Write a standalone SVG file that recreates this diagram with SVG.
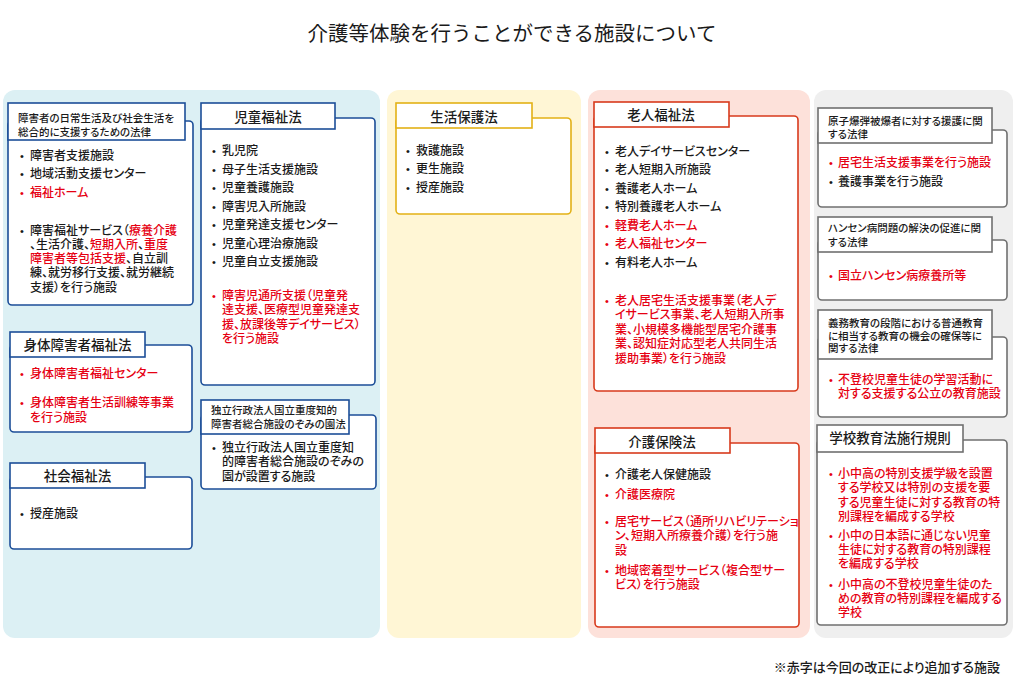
<svg xmlns="http://www.w3.org/2000/svg" width="1024" height="700" viewBox="0 0 1024 700">
<style>
text{font-family:"Noto Sans CJK JP","Noto Sans",sans-serif;font-feature-settings:"palt" 1;fill:#1a1a1a;font-size:12px;font-weight:500}
.r{fill:#e60012}
.h{font-size:13.5px;text-anchor:middle}
.s{font-size:10.5px}
.b{font-family:"Liberation Sans",sans-serif;font-size:11px}
.tab,.body{fill:#fff;stroke-width:1.6}
.blue{stroke:#1c4e98}
.yel{stroke:#e3b116}
.red{stroke:#d83a1c}
.gry{stroke:#707070}
</style>
<rect width="1024" height="700" fill="#fff"/>
<text x="512" y="41" text-anchor="middle" style="font-size:20.5px;font-feature-settings:normal;font-weight:400">介護等体験を行うことができる施設について</text>
<g id="columns">
<rect x="3" y="90" width="377" height="548" rx="12" fill="#dcf0f4"/>
<rect x="387" y="90" width="194" height="548" rx="12" fill="#fff6d5"/>
<rect x="588" y="90" width="222" height="548" rx="12" fill="#fde1da"/>
<rect x="814" y="90" width="199" height="548" rx="12" fill="#efefef"/>
</g>
<g id="connectors"></g>
<g id="law-sogoshien">
<rect class="body blue" x="8" y="121" width="185" height="184" rx="4"/>
<rect class="tab blue" x="8" y="103" width="177" height="37"/>
<text class="s"><tspan x="18" y="122">障害者の日常生活及び社会生活を</tspan><tspan x="18" y="135.5">総合的に支援するための法律</tspan></text>
<text class="b" x="20" y="159.5">•</text><text x="30" y="159.5">障害者支援施設</text>
<text class="b" x="20" y="177.5">•</text><text x="30" y="177.5">地域活動支援センター</text>
<text class="b r" x="20" y="196.5">•</text><text class="r" x="30" y="196.5">福祉ホーム</text>
<text class="b" x="20" y="234.5">•</text>
<text><tspan x="30" y="234.5">障害福祉サービス（</tspan><tspan class="r">療養介護</tspan><tspan x="30" y="248.5">、生活介護、</tspan><tspan class="r">短期入所</tspan><tspan>、</tspan><tspan class="r">重度</tspan><tspan x="30" y="262.5" class="r">障害者等包括支援</tspan><tspan>、自立訓</tspan><tspan x="30" y="277">練、就労移行支援、就労継続</tspan><tspan x="30" y="291.5">支援）を行う施設</tspan></text>
</g>
<g id="law-jido">
<rect class="body blue" x="201" y="118" width="174" height="267" rx="4"/>
<rect class="tab blue" x="201" y="103" width="134" height="26"/>
<text class="h" x="268" y="122">児童福祉法</text>
<text class="b" x="212" y="154.5">•</text><text x="222" y="154.5">乳児院</text>
<text class="b" x="212" y="173.5">•</text><text x="222" y="173.5">母子生活支援施設</text>
<text class="b" x="212" y="192">•</text><text x="222" y="192">児童養護施設</text>
<text class="b" x="212" y="210.5">•</text><text x="222" y="210.5">障害児入所施設</text>
<text class="b" x="212" y="229">•</text><text x="222" y="229">児童発達支援センター</text>
<text class="b" x="212" y="247.5">•</text><text x="222" y="247.5">児童心理治療施設</text>
<text class="b" x="212" y="266">•</text><text x="222" y="266">児童自立支援施設</text>
<text class="b r" x="212" y="299.5">•</text>
<text class="r"><tspan x="222" y="299.5">障害児通所支援（児童発</tspan><tspan x="222" y="314">達支援、医療型児童発達支</tspan><tspan x="222" y="328.5">援、放課後等デイサービス）</tspan><tspan x="222" y="343">を行う施設</tspan></text>
</g>
<g id="law-shintai">
<rect class="body blue" x="10" y="345" width="182" height="87" rx="4"/>
<rect class="tab blue" x="10" y="332" width="135" height="25"/>
<text class="h" x="77.5" y="350">身体障害者福祉法</text>
<text class="b r" x="20" y="377.5">•</text><text class="r" x="30" y="377.5">身体障害者福祉センター</text>
<text class="b r" x="20" y="406.5">•</text>
<text class="r"><tspan x="30" y="406.5">身体障害者生活訓練等事業</tspan><tspan x="30" y="422">を行う施設</tspan></text>
</g>
<g id="law-shakai">
<rect class="body blue" x="10" y="477" width="182" height="72" rx="4"/>
<rect class="tab blue" x="10" y="463" width="135" height="25"/>
<text class="h" x="77.5" y="481">社会福祉法</text>
<text class="b" x="20" y="517.5">•</text><text x="30" y="517.5">授産施設</text>
</g>
<g id="law-nozomi">
<rect class="body blue" x="201" y="415" width="175" height="74" rx="4"/>
<rect class="tab blue" x="201" y="400" width="148" height="34"/>
<text class="s"><tspan x="211" y="414">独立行政法人国立重度知的</tspan><tspan x="211" y="428">障害者総合施設のぞみの園法</tspan></text>
<text class="b" x="212" y="451.5">•</text>
<text><tspan x="222" y="451.5">独立行政法人国立重度知</tspan><tspan x="222" y="466">的障害者総合施設のぞみの</tspan><tspan x="222" y="480.5">園が設置する施設</tspan></text>
</g>
<g id="law-seikatsuhogo">
<rect class="body yel" x="396" y="118" width="175" height="96" rx="4"/>
<rect class="tab yel" x="396" y="103" width="136" height="25"/>
<text class="h" x="464" y="122">生活保護法</text>
<text class="b" x="406" y="154.5">•</text><text x="416" y="154.5">救護施設</text>
<text class="b" x="406" y="172.5">•</text><text x="416" y="172.5">更生施設</text>
<text class="b" x="406" y="191.5">•</text><text x="416" y="191.5">授産施設</text>
</g>
<g id="law-rojin">
<rect class="body red" x="594" y="116" width="204" height="275" rx="4"/>
<rect class="tab red" x="594" y="102" width="135" height="25"/>
<text class="h" x="661" y="120">老人福祉法</text>
<text class="b" x="605" y="155.5">•</text><text x="615" y="155.5">老人デイサービスセンター</text>
<text class="b" x="605" y="173.5">•</text><text x="615" y="173.5">老人短期入所施設</text>
<text class="b" x="605" y="192.5">•</text><text x="615" y="192.5">養護老人ホーム</text>
<text class="b" x="605" y="210.5">•</text><text x="615" y="210.5">特別養護老人ホーム</text>
<text class="b r" x="605" y="229.5">•</text><text class="r" x="615" y="229.5">軽費老人ホーム</text>
<text class="b r" x="605" y="247.5">•</text><text class="r" x="615" y="247.5">老人福祉センター</text>
<text class="b" x="605" y="266.5">•</text><text x="615" y="266.5">有料老人ホーム</text>
<text class="b r" x="605" y="304.5">•</text>
<text class="r"><tspan x="615" y="304.5">老人居宅生活支援事業（老人デ</tspan><tspan x="615" y="318.5">イサービス事業、老人短期入所事</tspan><tspan x="615" y="333.5">業、小規模多機能型居宅介護事</tspan><tspan x="615" y="348">業、認知症対応型老人共同生活</tspan><tspan x="615" y="362.5">援助事業）を行う施設</tspan></text>
</g>
<g id="law-kaigohoken">
<rect class="body red" x="595" y="443" width="204" height="184" rx="4"/>
<rect class="tab red" x="595" y="428" width="135" height="25"/>
<text class="h" x="662" y="447">介護保険法</text>
<text class="b" x="605" y="478.5">•</text><text x="615" y="478.5">介護老人保健施設</text>
<text class="b r" x="605" y="498.5">•</text><text class="r" x="615" y="498.5">介護医療院</text>
<text class="b r" x="605" y="525.5">•</text>
<text class="r"><tspan x="615" y="525.5">居宅サービス（通所リハビリテーショ</tspan><tspan x="615" y="539.5">ン、短期入所療養介護）を行う施</tspan><tspan x="615" y="554.5">設</tspan></text>
<text class="b r" x="605" y="574.5">•</text>
<text class="r"><tspan x="615" y="574.5">地域密着型サービス（複合型サー</tspan><tspan x="615" y="588.5">ビス）を行う施設</tspan></text>
</g>
<g id="law-genbaku">
<rect class="body gry" x="818" y="130" width="189" height="77" rx="4"/>
<rect class="tab gry" x="818" y="108" width="174" height="35"/>
<text class="s"><tspan x="828" y="125">原子爆弾被爆者に対する援護に関</tspan><tspan x="828" y="137.5">する法律</tspan></text>
<text class="b r" x="829" y="166.5">•</text><text class="r" x="838" y="166.5">居宅生活支援事業を行う施設</text>
<text class="b" x="829" y="185.5">•</text><text x="838" y="185.5">養護事業を行う施設</text>
</g>
<g id="law-hansen">
<rect class="body gry" x="818" y="240" width="189" height="60" rx="4"/>
<rect class="tab gry" x="818" y="217" width="174" height="35"/>
<text class="s"><tspan x="828" y="232">ハンセン病問題の解決の促進に関</tspan><tspan x="828" y="246">する法律</tspan></text>
<text class="b r" x="829" y="279.5">•</text><text class="r" x="838" y="279.5">国立ハンセン病療養所等</text>
</g>
<g id="law-kyoikukikai">
<rect class="body gry" x="818" y="337" width="189" height="80" rx="4"/>
<rect class="tab gry" x="818" y="310" width="174" height="49"/>
<text class="s"><tspan x="828" y="327">義務教育の段階における普通教育</tspan><tspan x="828" y="339.5">に相当する教育の機会の確保等に</tspan><tspan x="828" y="352">関する法律</tspan></text>
<text class="b r" x="829" y="383.5">•</text>
<text class="r"><tspan x="838" y="383.5">不登校児童生徒の学習活動に</tspan><tspan x="838" y="397.5">対する支援する公立の教育施設</tspan></text>
</g>
<g id="law-gakko">
<rect class="body gry" x="817" y="440" width="190" height="185" rx="4"/>
<rect class="tab gry" x="817" y="425" width="146" height="27"/>
<text class="h" x="890" y="443">学校教育法施行規則</text>
<text class="b r" x="829" y="477.5">•</text>
<text class="r"><tspan x="838" y="477.5">小中高の特別支援学級を設置</tspan><tspan x="838" y="492">する学校又は特別の支援を要</tspan><tspan x="838" y="506.5">する児童生徒に対する教育の特</tspan><tspan x="838" y="520.5">別課程を編成する学校</tspan></text>
<text class="b r" x="829" y="539.5">•</text>
<text class="r"><tspan x="838" y="539.5">小中の日本語に通じない児童</tspan><tspan x="838" y="553.5">生徒に対する教育の特別課程</tspan><tspan x="838" y="568">を編成する学校</tspan></text>
<text class="b r" x="829" y="588.5">•</text>
<text class="r"><tspan x="838" y="588.5">小中高の不登校児童生徒のた</tspan><tspan x="838" y="602.5">めの教育の特別課程を編成する</tspan><tspan x="838" y="617">学校</tspan></text>
</g>
<text x="1000" y="672" text-anchor="end" style="font-size:13px">※赤字は今回の改正により追加する施設</text>
</svg>
